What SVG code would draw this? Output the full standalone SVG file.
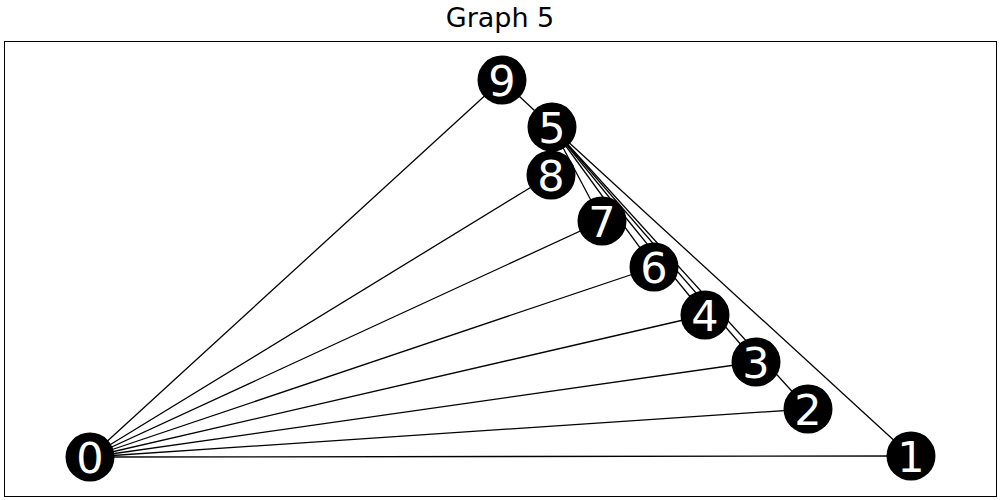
<svg xmlns="http://www.w3.org/2000/svg" width="1000" height="500" viewBox="0 0 1000 500">
<style>
.e{stroke:#000;stroke-width:1.3;fill:none}
.n circle{fill:#000}
.n text{fill:#fff;font-family:"DejaVu Sans",sans-serif;font-size:43px;text-anchor:middle}
.t{font-family:"DejaVu Sans",sans-serif;font-size:27px;text-anchor:middle;fill:#000}
</style>
<rect width="1000" height="500" fill="#fff"/>
<text class="t" x="500" y="27">Graph 5</text>
<rect x="4.5" y="41.5" width="992" height="455" fill="none" stroke="#000" stroke-width="1"/>
<g id="edges">
<line class="e" x1="90" y1="457" x2="502" y2="80"/>
<line class="e" x1="90" y1="457" x2="551" y2="175"/>
<line class="e" x1="90" y1="457" x2="602" y2="221"/>
<line class="e" x1="90" y1="457" x2="654" y2="267"/>
<line class="e" x1="90" y1="457" x2="705" y2="315"/>
<line class="e" x1="90" y1="457" x2="756" y2="362"/>
<line class="e" x1="90" y1="457" x2="808" y2="409"/>
<line class="e" x1="90" y1="457" x2="911" y2="456"/>
<line class="e" x1="552" y1="127" x2="502" y2="80"/>
<line class="e" x1="552" y1="127" x2="602" y2="221"/>
<line class="e" x1="552" y1="127" x2="654" y2="267"/>
<line class="e" x1="552" y1="127" x2="705" y2="315"/>
<line class="e" x1="552" y1="127" x2="756" y2="362"/>
<line class="e" x1="552" y1="127" x2="808" y2="409"/>
<line class="e" x1="552" y1="127" x2="911" y2="456"/>
</g>
<g id="node0" class="n"><circle cx="90" cy="457" r="24.5"/><text x="90" y="473">0</text></g>
<g id="node1" class="n"><circle cx="911" cy="456" r="24.5"/><text x="911" y="472">1</text></g>
<g id="node2" class="n"><circle cx="808" cy="409" r="24.5"/><text x="808" y="425">2</text></g>
<g id="node3" class="n"><circle cx="756" cy="362" r="24.5"/><text x="756" y="378">3</text></g>
<g id="node4" class="n"><circle cx="705" cy="315" r="24.5"/><text x="705" y="331">4</text></g>
<g id="node6" class="n"><circle cx="654" cy="267" r="24.5"/><text x="654" y="283">6</text></g>
<g id="node7" class="n"><circle cx="602" cy="221" r="24.5"/><text x="602" y="237">7</text></g>
<g id="node8" class="n"><circle cx="551" cy="175" r="24.5"/><text x="551" y="191">8</text></g>
<g id="node5" class="n"><circle cx="552" cy="127" r="24.5"/><text x="552" y="143">5</text></g>
<g id="node9" class="n"><circle cx="502" cy="80" r="24.5"/><text x="502" y="96">9</text></g>
</svg>
